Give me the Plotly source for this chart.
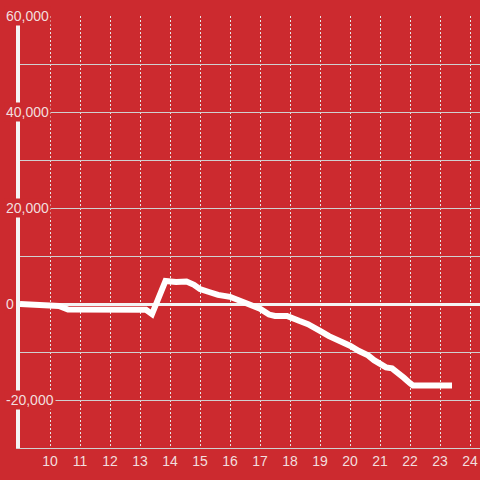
import plotly.graph_objects as go

# hours of the day and running balance
hours = [9.0, 10.0, 10.3, 10.6, 13.2, 13.4, 13.6, 13.85, 14.2, 14.55, 14.8, 15.0,
         15.3, 15.6, 16.0, 16.2, 16.5, 16.7, 17.0, 17.3, 17.5, 17.9, 18.0, 18.3,
         18.6, 18.8, 19.0, 19.3, 19.5, 19.7, 20.0, 20.3, 20.6, 20.8, 21.0, 21.2,
         21.4, 21.6, 21.8, 22.0, 22.1, 23.4]
balance = [0, -100, -400, -1150, -1200, -2100, 800, 4800, 4600, 4700, 4000, 3100,
           2500, 1900, 1500, 1000, 300, -100, -1000, -2200, -2500, -2500, -2800, -3500,
           -4200, -4800, -5600, -6700, -7200, -7700, -8700, -9800, -10700, -11700, -12500, -13200,
           -13400, -14300, -15400, -16500, -17000, -17000]

y_ticks = [60000, 40000, 20000, 0, -20000]
y_labels = ['60,000', '40,000', '20,000', '0', '-20,000']
x_ticks = list(range(10, 25))

BG = '#cc2a2f'
TXT = '#f2dede'

fig = go.Figure()
fig.add_trace(go.Scatter(x=hours, y=balance, mode='lines',
                         line=dict(color='white', width=6), hoverinfo='skip'))

# y labels sit on a red box that hides the axis line and grid behind them
for v, lab in zip(y_ticks, y_labels):
    fig.add_annotation(x=0, xref='paper', y=v, yref='y', text=lab, showarrow=False,
                       xanchor='left', xshift=-16, bgcolor=BG, borderpad=1,
                       font=dict(size=14, color=TXT, family='Liberation Sans, Arial'))

fig.update_layout(
    width=480, height=480,
    paper_bgcolor=BG, plot_bgcolor=BG,
    margin=dict(l=20, r=0, t=16, b=32),
    showlegend=False,
    font=dict(family='Liberation Sans, Arial', size=14, color=TXT),
    xaxis=dict(range=[9, 24.333], tickvals=x_ticks, showgrid=True,
               gridcolor='#e6e6e6', griddash='2px,2px', gridwidth=1,
               zeroline=False, showline=True, linecolor='#d0d0d0', linewidth=1,
               ticks='', tickfont=dict(size=14, color=TXT)),
    yaxis=dict(range=[-30000, 60000], dtick=10000, showgrid=True,
               gridcolor='#d0d0d0', gridwidth=1, showticklabels=False,
               zeroline=True, zerolinecolor='#f4f4f4', zerolinewidth=3,
               showline=True, linecolor='#f4f4f4', linewidth=4, ticks=''),
)

fig.write_html("out.html", config={'staticPlot': True},
               post_script="document.body.style.margin='0';")
